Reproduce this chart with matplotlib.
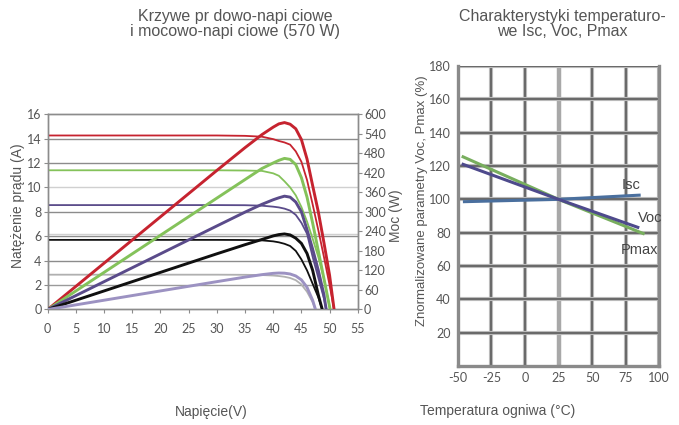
import matplotlib
matplotlib.use("Agg")
import matplotlib.pyplot as plt

# ---------------- data: I-V and P-V curves (left chart) ----------------
curve_names = ["1000 W/m2", "800 W/m2", "600 W/m2", "400 W/m2", "200 W/m2"]

v_red = [0, 30, 35, 38, 40, 41, 42, 43, 44, 45, 46, 47, 48, 49, 50, 50.8]
i_red = [14.25, 14.25, 14.22, 14.15, 13.95, 13.8, 13.68, 13.5, 12.95, 12.1, 10.6, 8.6, 6.5, 4.3, 2.0, 0]
p_red = [0, 427, 497, 537, 560, 570, 574, 569, 555, 522, 462, 380, 300, 205, 105, 0]

v_green = [0, 30, 35, 38, 40, 41, 42, 43, 44, 45, 46, 47, 48, 49, 50.1]
i_green = [11.4, 11.4, 11.38, 11.35, 11.15, 10.95, 10.5, 10.0, 9.35, 8.4, 7.2, 5.8, 4.3, 2.5, 0]
p_green = [0, 342, 399, 433, 450, 458, 464, 461, 445, 405, 345, 265, 180, 95, 0]

v_purple = [0, 30, 35, 38, 40, 41, 42, 43, 44, 45, 46, 47, 48, 49, 49.4]
i_purple = [8.55, 8.55, 8.54, 8.5, 8.42, 8.36, 8.26, 8.1, 7.75, 7.1, 6.2, 4.3, 2.6, 0.9, 0]
p_purple = [0, 256.5, 299, 323, 337, 343, 348, 345, 330, 300, 245, 185, 120, 45, 0]

v_black = [0, 30, 35, 38, 40, 41, 42, 43, 44, 45, 46, 47, 48, 48.7]
i_black = [5.7, 5.7, 5.69, 5.66, 5.58, 5.5, 5.38, 5.2, 4.8, 4.1, 3.2, 2.1, 1.0, 0]
p_black = [0, 171, 199, 215, 226, 230, 232, 229, 219, 203, 172, 120, 45, 0]

v_light = [0, 30, 35, 38, 40, 41, 42, 43, 44, 45, 46, 47, 47.5]
i_light = [2.85, 2.85, 2.84, 2.82, 2.78, 2.74, 2.68, 2.58, 2.4, 2.05, 1.45, 0.6, 0]
p_light = [0, 85.5, 99.5, 107, 111, 112, 111.5, 109, 103, 91, 68, 28, 0]

left_xticks = [0, 5, 10, 15, 20, 25, 30, 35, 40, 45, 50, 55]
left_yticks = [0, 2, 4, 6, 8, 10, 12, 14, 16]
right_yticks = [0, 60, 120, 180, 240, 300, 360, 420, 480, 540, 600]

# ---------------- data: temperature characteristics (right chart) ----------------
temp_isc = [-45, 25, 85]
val_isc = [98.6, 100, 102.5]
temp_voc = [-46, 25, 84]
val_voc = [121, 100, 83.2]
temp_pmax = [-46, 25, 88]
val_pmax = [125.5, 100, 79.5]
temp_xticks = [-50, -25, 0, 25, 50, 75, 100]
temp_xlabels = ["-50", "-25", "0", "25", "50", "75", "100"]
temp_yticks = [20, 40, 60, 80, 100, 120, 140, 160, 180]

# ---------------- styling ----------------
FONT = ["Liberation Sans", "DejaVu Sans"]
TICKFONT = ["Lato", "DejaVu Sans"]
plt.rcParams["font.family"] = FONT
TXT = "#555555"
SPINE = "#8c8c8c"

fig = plt.figure(figsize=(6.79, 4.25), dpi=100)

# ===== left chart =====
ax = fig.add_axes([0.0703, 0.2718, 0.4566, 0.4597])
ax.set_xlim(0, 55)
ax.set_ylim(0, 16)
ax2 = ax.twinx()
ax2.set_ylim(0, 600)

# horizontal gridlines
for y, c in [(2, "#9a9a9a"), (4, "#8c8c8c"), (6, "#8c8c8c"), (6.2, "#d0d0d0"),
             (8, "#8c8c8c"), (10, "#d0d0d0"), (12, "#8c8c8c"), (14, "#8c8c8c")]:
    ax.axhline(y, color=c, lw=1.0, zorder=0)

colors = ["#c6232f", "#84c25a", "#5a4b8a", "#101010", "#9c92c2"]
iv_colors = ["#c6232f", "#84c25a", "#5a4b8a", "#101010", "#b0b0b0"]
volts = [v_red, v_green, v_purple, v_black, v_light]
currents = [i_red, i_green, i_purple, i_black, i_light]
powers = [p_red, p_green, p_purple, p_black, p_light]

for v, i, c in zip(volts, currents, iv_colors):
    ax.plot(v, i, color=c, lw=1.3, solid_joinstyle="round", zorder=3)
for v, p, c in zip(volts, powers, colors):
    ax2.plot(v, p, color=c, lw=2.1, solid_joinstyle="round", solid_capstyle="round", zorder=4)

for a in (ax, ax2):
    for s in a.spines.values():
        s.set_color(SPINE)
        s.set_linewidth(1.0)

ax.set_xticks(left_xticks)
ax.set_yticks(left_yticks)
ax2.set_yticks(right_yticks)
ax.tick_params(axis="y", colors=SPINE, labelcolor=TXT, labelsize=9, length=3, width=0.8, pad=1.5)
ax.tick_params(axis="x", colors=SPINE, labelcolor=TXT, labelsize=9, length=3, width=0.8, pad=7)
ax2.tick_params(axis="y", colors=SPINE, labelcolor=TXT, labelsize=9, length=3, width=0.8, pad=1.5)
for lab in ax.get_xticklabels() + ax.get_yticklabels() + ax2.get_yticklabels():
    lab.set_family(TICKFONT)

ax.set_ylabel("Natężenie prądu (A)", color=TXT, fontsize=10)
ax.yaxis.set_label_coords(-0.072, 0.53)
ax2.set_ylabel("Moc (W)", color=TXT, fontsize=10)
ax2.yaxis.set_label_coords(1.10, 0.48)
fig.text(0.311, 0.03, "Napięcie(V)", color=TXT, fontsize=10, ha="center", va="center")
fig.text(0.346, 0.944, "Krzywe pr dowo-napi ciowe\ni mocowo-napi ciowe (570 W)",
         color=TXT, fontsize=11.5, ha="center", va="center", linespacing=1.0)

# ===== right chart =====
bx = fig.add_axes([0.6741, 0.1388, 0.2969, 0.7059])
bx.set_xlim(-50, 100)
bx.set_ylim(0, 180)

for x in temp_xticks[1:]:
    if x == 25:
        bx.axvline(x, color="#a8a8a8", lw=3.2, zorder=1)
    else:
        bx.axvline(x, color="#c4c4c4", lw=3.0, zorder=1)
        bx.axvline(x, color="#6a6a6a", lw=1.6, zorder=1)
for y in temp_yticks:
    bx.axhline(y, color="#c4c4c4", lw=3.0, zorder=1)
    bx.axhline(y, color="#6a6a6a", lw=1.6, zorder=1)

for s in bx.spines.values():
    s.set_color("#8a8a8a")
    s.set_linewidth(2.4)
bx.spines["top"].set_visible(False)

bx.plot(temp_isc, val_isc, color="#4a6f9e", lw=2.2, zorder=5)
bx.plot(temp_pmax, val_pmax, color="#78ae5e", lw=2.2, zorder=4)
bx.plot(temp_voc, val_voc, color="#4e4a8c", lw=2.2, zorder=5)

bx.text(86, 104.5, "Isc", color="#444444", fontsize=10.5, ha="right", va="bottom")
bx.text(102.5, 89, "Voc", color="#444444", fontsize=10.5, ha="right", va="center")
bx.text(99.5, 69.5, "Pmax", color="#444444", fontsize=10.5, ha="right", va="center")

bx.set_xticks(temp_xticks)
bx.set_xticklabels(temp_xlabels)
bx.set_yticks(temp_yticks)
bx.tick_params(axis="both", length=0, labelcolor=TXT, labelsize=9, pad=5)
for lab in bx.get_xticklabels() + bx.get_yticklabels():
    lab.set_family(TICKFONT)
bx.tick_params(axis="x", pad=4)
bx.set_ylabel("Znormalizowane parametry Voc, Pmax (%)", color=TXT, fontsize=9.5)
bx.yaxis.set_label_coords(-0.148, 0.55)
fig.text(0.733, 0.033, "Temperatura ogniwa (°C)", color=TXT, fontsize=10, ha="center", va="center")
fig.text(0.8285, 0.944, "Charakterystyki temperaturo-\nwe Isc, Voc, Pmax",
         color=TXT, fontsize=11.5, ha="center", va="center", linespacing=1.0)

fig.savefig("out.png", dpi=100)
